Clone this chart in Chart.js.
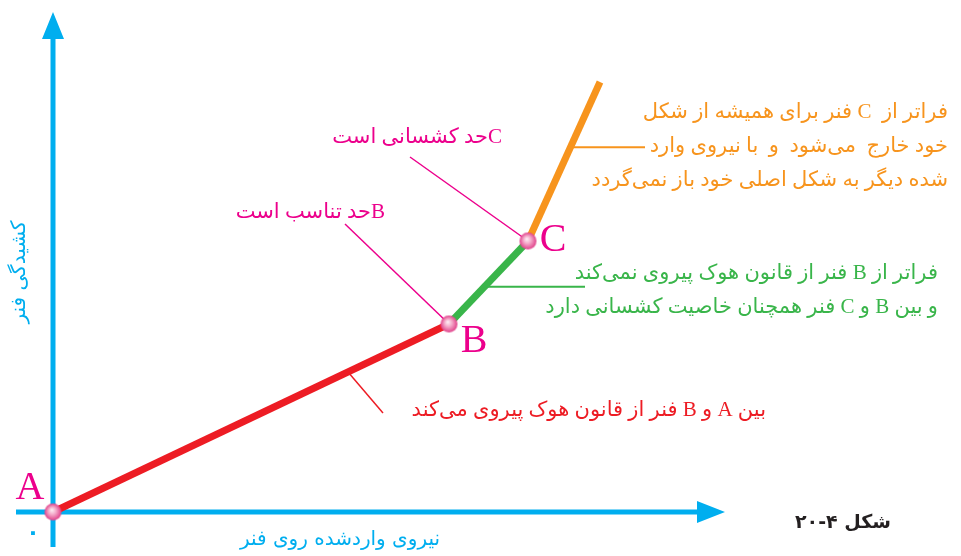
<!DOCTYPE html>
<html lang="fa">
<head>
<meta charset="utf-8">
<title>شکل ۴-۲۰</title>
<script src="https://cdn.jsdelivr.net/npm/chart.js@4"></script>
<style>
  html, body { margin: 0; padding: 0; background: #fff; }
  canvas { display: block; }
</style>
</head>
<body>
<canvas id="springChart" width="961" height="556"></canvas>
<script>
// --- data (force applied on spring vs. stretch, arbitrary units) ---
const pointNames = ['A', 'B', 'C'];
const forceValues = [0, 39.6, 47.5, 54.7];      // x: نیروی واردشده
const stretchValues = [0, 18.8, 27.1, 43.0];    // y: کشیدگی

const xAxisTitle = 'نیروی واردشده روی فنر';
const yAxisTitle = 'کشیدگی فنر';
const originLabel = '۰';
const caption = 'شکل ۴-۲۰';

const noteAB = ['بین A و B فنر از قانون هوک پیروی می\u200cکند'];
const noteBC = ['فراتر از B فنر از قانون هوک پیروی نمی\u200cکند', 'و بین B و C فنر همچنان خاصیت کشسانی دارد'];
const noteC = ['فراتر از  C فنر برای همیشه از شکل', 'خود خارج  می\u200cشود  و  با نیروی وارد', 'شده دیگر به شکل اصلی خود باز نمی\u200cگردد'];
const limitB = 'Bحد تناسب است';
const limitC = 'Cحد کشسانی است';

// colours
const CYAN = '#00aeef';
const RED = '#ed1c24';
const GREEN = '#39b54a';
const ORANGE = '#f7941d';
const MAGENTA = '#ec008c';

const MIXED_FONT = "'Liberation Serif', 'DejaVu Sans', serif";

function pt(i) { return { x: forceValues[i], y: stretchValues[i] }; }

// a point partway along a segment, used to hang the leader lines
function along(i, t) {
    return {
        x: forceValues[i] + (forceValues[i + 1] - forceValues[i]) * t,
        y: stretchValues[i] + (stretchValues[i + 1] - stretchValues[i]) * t
    };
}

// pink ball used as point style
function makeBall(r) {
    const c = document.createElement('canvas');
    c.width = c.height = r * 2 + 2;
    const g = c.getContext('2d');
    const cx = r + 1, cy = r + 1;
    const grad = g.createRadialGradient(cx - r * 0.15, cy - r * 0.25, 0, cx, cy, r);
    grad.addColorStop(0, '#fff3f8');
    grad.addColorStop(0.45, '#f4a9c9');
    grad.addColorStop(1, '#e0408a');
    g.fillStyle = grad;
    g.beginPath();
    g.arc(cx, cy, r, 0, Math.PI * 2);
    g.fill();
    return c;
}
const ball = makeBall(8.5);

function seg(data, color, width, order) {
    return {
        data: data, showLine: true, borderColor: color, borderWidth: width,
        pointRadius: 0, borderCapStyle: 'butt', order: order, clip: false
    };
}

const datasets = [
    // leader lines
    seg([along(0, 0.745), { x: 33.0, y: 9.9 }], RED, 1.5, 3),
    seg([along(1, 0.45), { x: 53.2, y: along(1, 0.45).y }], GREEN, 2, 3),
    seg([along(2, 0.59), { x: 59.2, y: along(2, 0.59).y }], ORANGE, 2, 3),
    seg([{ x: 29.2, y: 28.8 }, pt(1)], MAGENTA, 1.5, 3),
    seg([{ x: 35.7, y: 35.5 }, pt(2)], MAGENTA, 1.5, 3),
    // curve pieces
    seg([pt(0), pt(1)], RED, 7, 2),
    seg([pt(1), pt(2)], GREEN, 7, 2),
    seg([pt(2), pt(3)], ORANGE, 7, 2),
    // A, B, C
    {
        data: pointNames.map((n, i) => pt(i)),
        pointStyle: ball, pointRadius: 9, showLine: false, order: 1, clip: false
    }
];

function text(ctx, str, x, y, font, color, align) {
    ctx.font = font;
    ctx.fillStyle = color;
    ctx.textAlign = align || 'right';
    ctx.textBaseline = 'middle';
    ctx.fillText(str, x, y);
}

const diagramPlugin = {
    id: 'diagram',
    beforeDatasetsDraw(chart) {
        const ctx = chart.ctx, xs = chart.scales.x, ys = chart.scales.y;
        const x0 = xs.getPixelForValue(0), y0 = ys.getPixelForValue(0);
        const xEnd = xs.getPixelForValue(67.2), yEnd = ys.getPixelForValue(50);
        ctx.save();
        ctx.strokeStyle = CYAN;
        ctx.fillStyle = CYAN;
        ctx.lineWidth = 5;
        ctx.beginPath();
        ctx.moveTo(xs.getPixelForValue(-3.7), y0);
        ctx.lineTo(xEnd - 20, y0);
        ctx.moveTo(x0, ys.getPixelForValue(-3.5));
        ctx.lineTo(x0, yEnd + 20);
        ctx.stroke();
        // arrow heads
        ctx.beginPath();
        ctx.moveTo(xEnd, y0);
        ctx.lineTo(xEnd - 28, y0 - 11);
        ctx.lineTo(xEnd - 28, y0 + 11);
        ctx.closePath();
        ctx.moveTo(x0, yEnd);
        ctx.lineTo(x0 - 11, yEnd + 27);
        ctx.lineTo(x0 + 11, yEnd + 27);
        ctx.closePath();
        ctx.fill();
        ctx.restore();
    },
    afterDatasetsDraw(chart) {
        const ctx = chart.ctx, xs = chart.scales.x, ys = chart.scales.y;
        const px = v => xs.getPixelForValue(v), py = v => ys.getPixelForValue(v);
        ctx.save();
        ctx.direction = 'rtl';

        // axis titles
        text(ctx, xAxisTitle, px(28.7), py(-2.8), "20px 'DejaVu Sans'", CYAN, 'center');
        ctx.save();
        ctx.translate(px(-3.3), py(24));
        ctx.rotate(-Math.PI / 2);
        text(ctx, yAxisTitle, 0, 0, "20px 'DejaVu Sans'", CYAN, 'center');
        ctx.restore();
        text(ctx, originLabel, px(-2.0), py(-2.1), "bold 22px 'DejaVu Sans'", CYAN, 'center');
        text(ctx, caption, px(79.0), py(-1.1), "bold 19px 'DejaVu Sans'", '#231f20', 'center');

        // point letters
        const letterFont = "40px 'Liberation Serif', serif";
        text(ctx, 'A', px(-2.3), py(2.4), letterFont, MAGENTA, 'center');
        text(ctx, 'B', px(42.1), py(17.1), letterFont, MAGENTA, 'center');
        text(ctx, 'C', px(50.0), py(27.2), letterFont, MAGENTA, 'center');

        // notes
        const noteFont = '21px ' + MIXED_FONT;
        text(ctx, noteAB[0], px(71.3), py(10.2), noteFont, RED);
        noteBC.forEach((s, i) => text(ctx, s, px(88.5), py(23.9 - i * 3.4), noteFont, GREEN));
        noteC.forEach((s, i) => text(ctx, s, px(89.5), py(40.0 - i * 3.4), noteFont, ORANGE));
        text(ctx, limitC, px(44.9), py(37.5), noteFont, MAGENTA);
        text(ctx, limitB, px(33.2), py(30.0), noteFont, MAGENTA);
        ctx.restore();
    }
};

new Chart(document.getElementById('springChart'), {
    type: 'scatter',
    data: { datasets: datasets },
    options: {
        responsive: false,
        animation: false,
        layout: { padding: 0, autoPadding: false },
        plugins: { legend: { display: false }, tooltip: { enabled: false } },
        scales: {
            x: { type: 'linear', display: false, min: -5.3, max: 90.8 },
            y: { type: 'linear', display: false, min: -4.4, max: 51.2 }
        }
    },
    plugins: [diagramPlugin]
});
</script>
</body>
</html>
